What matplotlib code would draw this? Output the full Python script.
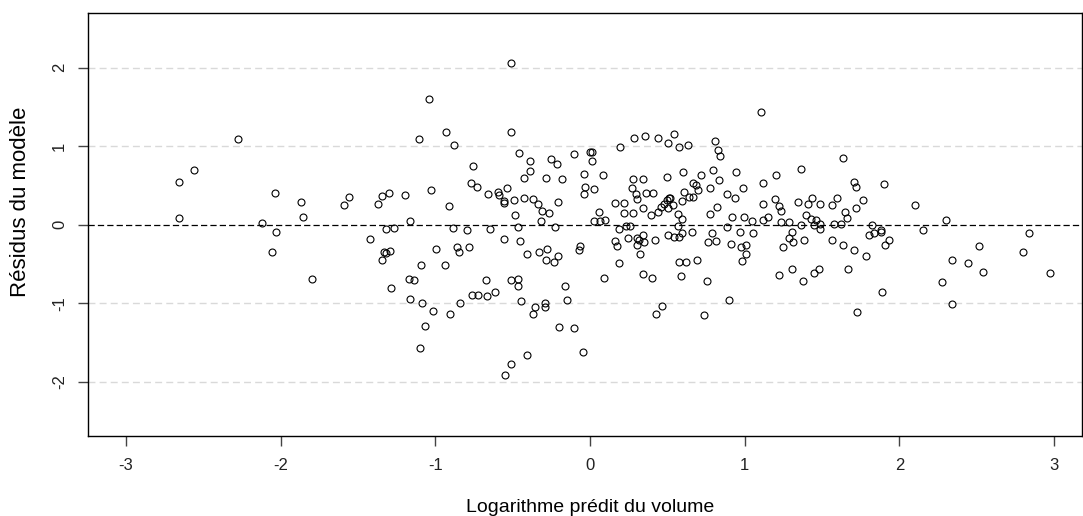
import matplotlib
matplotlib.use("Agg")
import matplotlib.pyplot as plt

plt.rcParams['font.family'] = ['Liberation Sans', 'DejaVu Sans']

# predicted log-volume (x) and model residuals (y)
predicted = [
    -2.655, -2.562, -2.275, -2.66, -2.118, -2.036, -1.866, -1.853, -1.594, -1.56, -2.03, -2.054, -1.797,
    -0.509, -1.041, -0.929, -0.509, -1.108, -0.881, -0.457, -0.388, -0.388, -0.754, -0.425, -0.769,
    -0.729, -0.537, -0.662, -0.597, -0.586, -0.556, -0.556, -0.489, -0.425, -0.483, -1.373, -1.347,
    -1.298, -1.194, -1.028, -0.91, -1.162, -1.319, -1.267, -0.888, -0.795, -0.649, -0.463,
    -1.424, -1.334, -1.321, -1.291, -1.347, -0.994, -0.862, -0.849, -0.782, -0.556, -0.451, -0.405,
    -1.095, -0.935, -1.168, -1.14, -1.287, -0.674, -0.509, -0.467, -0.467, -1.162, -1.088, -1.015,
    -0.903, -0.84, -0.761, -0.726, -0.668, -0.616, -0.448, -1.067, -1.1, -0.41, -0.509, -0.55,
    0.194, 0.287, 0.354, 0.44, 0.545, 0.506, 0.573, 0.634, -0.25, -0.211, -0.105, 0.0, 0.015, 0.015,
    -0.284, -0.183, -0.037, 0.082, -0.03, -0.037, 0.022, -0.366, -0.336, -0.308, -0.263, -0.317,
    -0.205, -0.224, 0.028, 0.06, 0.097, 0.28, 0.341, 0.494, 0.599, 0.72, 0.793, 0.274, 0.295, 0.302,
    0.36, 0.407, 0.162, 0.222, 0.218, 0.28, 0.341, 0.395, 0.442, 0.461, 0.478, 0.496, 0.513, 0.519,
    0.504, 0.535, 0.593, 0.608, 0.64, 0.662, 0.668, 0.683, 0.70, 0.776, 0.571, 0.593, 0.567, 0.776,
    0.187, 0.235, 0.261, 0.659,
    0.062, -0.33, -0.276, -0.284, -0.231, -0.209, -0.065, -0.071, -0.164, -0.151, 0.089, -0.356,
    -0.37, -0.289, -0.289, -0.202, -0.105, -0.045, 0.162, 0.176, 0.248, 0.187, 0.306, 0.317, 0.304,
    0.345, 0.349, 0.321, 0.42, 0.341, 0.401, 0.506, 0.543, 0.575, 0.593, 0.79, 0.765, 0.573, 0.62,
    0.694, 0.586, 0.756, 0.467, 0.427, 0.739,
    1.104, 0.806, 0.826, 0.838, 0.834, 0.944, 0.991, 0.884, 0.938, 0.819, 0.918, 0.998, 1.045, 1.117,
    1.119, 1.203, 1.119, 1.153, 1.198, 1.222, 1.237, 1.231, 1.285, 1.362, 1.343, 1.407, 1.437, 1.489,
    1.397, 1.425, 1.461, 1.45, 1.489, 1.364, 1.562, 1.597, 1.636, 1.709, 1.716, 1.767, 1.716, 1.649,
    1.661, 1.576, 1.623, 1.823, 1.88, 1.901, 0.884,
    0.815, 0.912, 0.972, 1.052, 0.978, 1.006, 1.011, 0.985, 0.899, 1.304, 1.285, 1.312, 1.385, 1.246,
    1.22, 1.304, 1.377, 1.45, 1.482, 1.485, 1.562, 1.636, 1.709, 1.67, 1.782, 1.728, 1.8, 1.834,
    1.883, 1.907, 1.933, 1.888,
    2.101, 2.302, 2.153, 2.838, 2.513, 2.338, 2.446, 2.541, 2.274, 2.338, 2.798, 2.97,
]
residuals = [
    0.54, 0.70, 1.096, 0.085, 0.018, 0.41, 0.29, 0.098, 0.255, 0.35, -0.089, -0.35, -0.69,
    2.064, 1.605, 1.185, 1.185, 1.096, 1.015, 0.909, 0.815, 0.688, 0.75, 0.60, 0.527,
    0.476, 0.467, 0.387, 0.413, 0.378, 0.306, 0.28, 0.318, 0.336, 0.124, 0.268, 0.37,
    0.40, 0.374, 0.438, 0.242, 0.043, -0.055, -0.046, -0.046, -0.072, -0.059, -0.034,
    -0.178, -0.348, -0.365, -0.335, -0.454, -0.31, -0.28, -0.348, -0.28, -0.178, -0.204, -0.373,
    -0.517, -0.517, -0.688, -0.705, -0.806, -0.705, -0.705, -0.688, -0.781, -0.95, -1.0, -1.095,
    -1.138, -1.0, -0.9, -0.9, -0.913, -0.857, -0.976, -1.29, -1.567, -1.66, -1.775, -1.919,
    0.986, 1.108, 1.134, 1.108, 1.159, 1.04, 0.99, 1.011, 0.837, 0.777, 0.897, 0.922, 0.922, 0.807,
    0.599, 0.582, 0.646, 0.633, 0.484, 0.387, 0.455, 0.331, 0.268, 0.175, 0.153, 0.043,
    0.293, -0.033, 0.043, 0.162, 0.056, 0.578, 0.582, 0.608, 0.671, 0.633, 0.70, 0.467, 0.391, 0.323,
    0.40, 0.40, 0.28, 0.28, 0.149, 0.149, 0.217, 0.124, 0.162, 0.229, 0.264, 0.315, 0.344, 0.34,
    0.217, 0.247, 0.306, 0.413, 0.353, 0.353, 0.535, 0.51, 0.438, 0.467, 0.132, 0.073, -0.017, 0.14,
    -0.055, -0.013, -0.017, -0.089,
    0.048, -0.348, -0.31, -0.454, -0.479, -0.399, -0.268, -0.322, -0.781, -0.963, -0.675, -1.052,
    -1.138, -1.0, -1.045, -1.303, -1.32, -1.622, -0.204, -0.271, -0.174, -0.492, -0.174, -0.195, -0.255,
    -0.127, -0.22, -0.373, -0.195, -0.624, -0.675, -0.127, -0.161, -0.153, -0.102, -0.11, -0.22, -0.479, -0.479,
    -0.454, -0.65, -0.713, -1.04, -1.138, -1.15,
    1.436, 1.07, 0.952, 0.875, 0.569, 0.675, 0.467, 0.387, 0.336, 0.229, 0.098, 0.098, 0.043, 0.527,
    0.268, 0.633, 0.056, 0.098, 0.323, 0.242, 0.175, 0.034, 0.034, 0.713, 0.285, 0.268, 0.336, 0.268,
    0.124, 0.069, 0.056, -0.008, 0.009, -0.008, 0.255, 0.336, 0.846, 0.544, 0.476, 0.318, 0.217, 0.162,
    0.082, 0.009, 0.009, -0.004, -0.068, 0.518, -0.034,
    -0.204, -0.242, -0.089, -0.102, -0.28, -0.262, -0.373, -0.466, -0.963, -0.097, -0.174, -0.22, -0.191, -0.28,
    -0.645, -0.56, -0.713, -0.611, -0.56, -0.059, -0.191, -0.259, -0.322, -0.56, -0.399, -1.108, -0.127, -0.102,
    -0.089, -0.259, -0.195, -0.857,
    0.255, 0.056, -0.072, -0.102, -0.267, -0.454, -0.492, -0.599, -0.73, -1.014, -0.348, -0.611,
]
x_ticks = [-3, -2, -1, 0, 1, 2, 3]
y_ticks = [-2, -1, 0, 1, 2]
grid_levels = [-2, -1, 1, 2]

fig = plt.figure(figsize=(10.83, 5.16), dpi=100)
ax = fig.add_axes([88 / 1083, 80 / 516, 994 / 1083, 423 / 516])

# light reference lines, then the zero line
for level in grid_levels:
    ax.axhline(level, color='#d9d9d9', lw=1, ls=(0, (5, 3)), zorder=1)
ax.axhline(0, color='black', lw=0.9, ls=(0, (5, 2.5)), zorder=2)

ax.plot(predicted, residuals, 'o', ms=5.0, mfc='none', mec='black', mew=0.8, zorder=3)

ax.set_xlim(-3.246, 3.18)
ax.set_ylim(-2.69, 2.697)
ax.set_xticks(x_ticks)
ax.set_yticks(y_ticks)
ax.set_xticklabels([str(t) for t in x_ticks])
ax.set_yticklabels([str(t) for t in y_ticks], rotation=90, va='center')
ax.tick_params(direction='out', length=7, width=1, color='#444444', labelsize=12,
               labelcolor='#222222')
ax.tick_params(axis='x', pad=9)
ax.tick_params(axis='y', pad=8)
for side in ax.spines.values():
    side.set_linewidth(1)
    side.set_color('black')

ax.set_xlabel('Logarithme prédit du volume', fontsize=14)
ax.set_ylabel('Résidus du modèle', fontsize=16)
ax.xaxis.set_label_coords(0.5055, -0.168)
ax.yaxis.set_label_coords(-0.068, 0.553)
ax.xaxis.label.set_va('center')
ax.yaxis.label.set_va('center')

fig.savefig('out.png', dpi=100)
